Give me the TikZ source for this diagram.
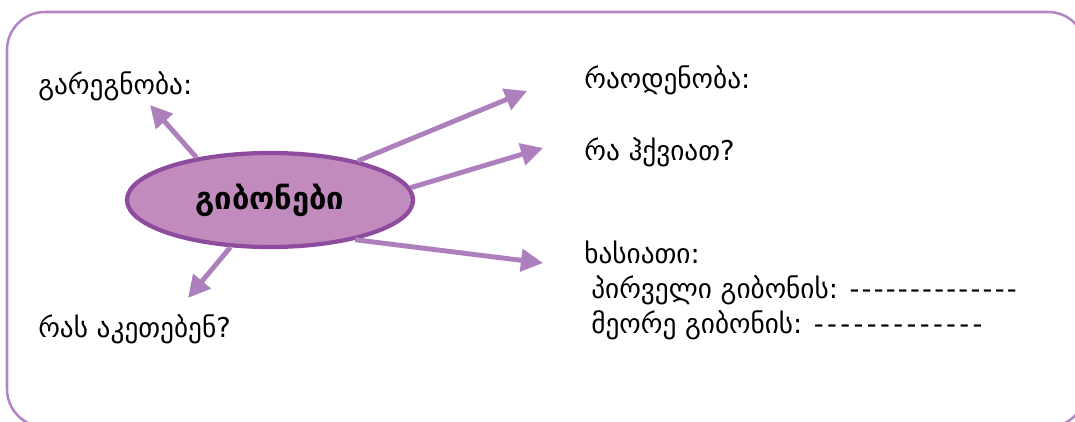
\documentclass[tikz,border=0pt]{standalone}
\usepackage{fontspec}
\setmainfont{DejaVu Sans}
\usetikzlibrary{shapes.geometric,arrows.meta}
\definecolor{boxcol}{RGB}{178,134,194}
\definecolor{arrcol}{RGB}{174,127,189}
\definecolor{ellfill}{RGB}{193,139,190}
\definecolor{ellline}{RGB}{142,76,158}
\newcommand\dashline[2][1.6pt]{\foreach\k in {1,...,#2}{\mbox{-}\hspace{#1}}}

\begin{document}
\begin{tikzpicture}[x=0.025cm,y=-0.025cm,
    arr/.style={draw=arrcol, line width=3.5pt, -{Triangle[length=5.5mm,width=5.5mm]}},
    lbl/.style={anchor=base west, inner sep=0pt, font=\fontsize{19.4}{22}\selectfont}]
        \useasboundingbox (0,0) rectangle (1075,421);
        \draw[boxcol, line width=1.8pt, rounded corners=0.95cm] (7,12) rectangle (1086,427);

        % centre
        \node[ellipse, draw=ellline, fill=ellfill, line width=3pt, inner sep=0pt,
              minimum width=7.15cm, minimum height=2.35cm,
              font=\bfseries\fontsize{22}{25}\selectfont] (gib) at (270,200) {გიბონები};

        % arrow tips
        \coordinate (tipA) at (150,105);
        \coordinate (tipB) at (188,298);
        \coordinate (tipC) at (527,91);
        \coordinate (tipD) at (543,148);
        \coordinate (tipE) at (543,263);
        \draw[arr] (gib.150) -- (tipA);
        \draw[arr] (gib.230) -- (tipB);
        \draw[arr] (gib.24) -- (tipC);
        \draw[arr] (gib.5) -- (tipD);
        \draw[arr] (gib.-25) -- (tipE);

        % labels
        \node[lbl] (gareg) at (38,94) {გარეგნობა:};
        \node[lbl] (akete) at (38,337) {რას აკეთებენ?};
        \node[lbl] (raod) at (584,88) {რაოდენობა:};
        \node[lbl] (hkv) at (584,160) {რა ჰქვიათ?};
        \node[lbl] (khas) at (584,263) {ხასიათი:};
        \node[lbl] (pirv) at (591,298) {პირველი გიბონის: \dashline{14}};
        \node[lbl] (meor) at (591,333) {მეორე გიბონის: \dashline[2.4pt]{13}};
    \end{tikzpicture}
\end{document}
